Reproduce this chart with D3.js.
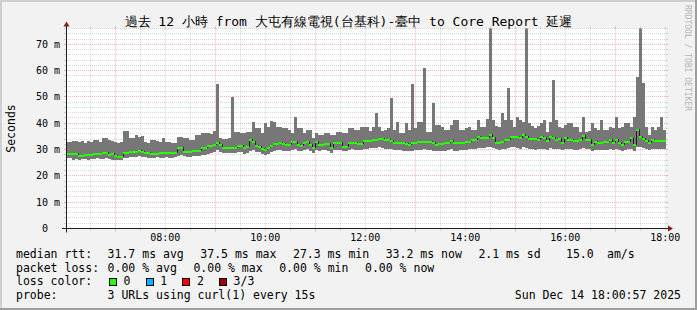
<!DOCTYPE html>
<html><head><meta charset="utf-8">
<script src="https://cdn.jsdelivr.net/npm/d3@7"></script>
<style>
body{margin:0;background:#f2f2f2;}
svg text{font-family:"DejaVu Sans Mono",monospace;white-space:pre;}
</style>
</head><body>
<svg id="chart" width="697" height="310"></svg>
<script>
// ---------- data ----------
const startTime = new Date(2025, 11, 14, 6, 0, 57);
const endTime = new Date(2025, 11, 14, 18, 0, 57);
const stepSeconds = 216;

const median = [
28.4,28.4,28.3,28.3,27.6,27.6,27.8,28.0,27.9,28.3, 28.3,28.3,28.6,28.6,28.0,28.2,27.6,27.3,27.3,28.8,
28.8,29.2,29.2,29.2,29.5,29.0,28.8,28.6,28.4,28.3, 28.4,28.6,28.6,28.6,28.6,28.8,28.8,30.5,30.5,29.2,
29.2,29.2,29.3,29.5,29.5,30.5,30.5,31.4,31.4,31.7,
32.6,31.8,30.5,30.5,30.5,30.5,30.5,31.4,31.4,30.5, 30.8,33.5,33.0,31.5,31.1,30.2,29.9,30.5,31.2,32.2,
32.2,32.4,32.2,31.8,31.8,33.0,33.0,31.8,31.3,32.6, 33.0,31.8,30.5,33.0,31.8,31.8,32.1,32.1,30.5,32.4,
32.6,32.6,31.1,31.1,32.4,32.6,32.6,32.1,32.1,33.4,
33.4,33.4,33.7,33.7,34.1,34.1,33.7,33.7,33.2,32.6, 32.6,32.4,32.4,32.0,31.8,32.4,32.4,33.0,33.0,33.0,
33.0,33.0,32.4,31.8,32.1,32.1,32.4,32.4,33.4,32.4, 32.4,32.6,32.6,33.0,33.0,33.7,33.7,34.9,34.3,34.3,
34.3,35.6,34.3,32.6,32.4,33.0,33.7,33.7,34.6,34.9,
34.7,34.3,35.6,34.9,33.9,33.9,33.9,33.7,34.6,34.3, 33.3,34.9,34.3,33.7,34.1,32.4,34.3,33.7,33.7,33.4,
33.4,33.7,35.2,33.7,33.7,31.8,33.0,32.6,32.6,33.0, 33.0,33.7,32.4,33.7,32.4,31.8,33.0,33.0,34.3,31.8,
37.5,34.6,33.9,33.4,32.4,33.7,33.4,33.4,33.4,33.2
];
const smokeMax = [
32.8,32.8,33.3,33.3,33.0,33.2,32.4,33.3,33.0,33.6, 33.6,33.0,34.3,34.5,33.6,33.3,32.8,32.6,33.0,37.2,
37.2,34.3,34.3,35.5,34.9,35.0,33.0,32.6,33.6,33.6, 33.3,33.0,34.3,33.0,33.0,32.4,32.6,34.9,34.9,34.3,
34.3,33.6,33.6,35.5,35.5,36.2,36.2,36.2,36.0,37.0,
55.0,34.3,34.0,34.0,34.3,50.1,36.8,36.8,36.2,36.2, 36.8,36.8,40.6,38.1,38.1,36.2,40.2,38.7,41.0,40.5,
38.7,38.7,38.1,38.1,37.5,36.2,42.3,38.1,38.1,36.2, 37.5,37.5,34.3,36.2,35.5,35.5,36.2,36.2,35.5,35.5,
36.8,36.8,36.2,36.2,38.1,38.1,37.5,37.5,38.7,38.7,
38.7,37.0,38.7,44.0,38.4,37.0,37.5,38.1,49.7,37.5, 40.6,36.2,36.2,40.0,37.5,55.0,38.1,40.6,40.6,60.9,
36.8,36.8,47.6,39.4,39.4,38.7,37.5,37.5,39.4,41.2, 41.2,37.5,37.5,38.1,38.7,37.5,37.5,41.2,38.7,38.7,
41.6,80.0,41.2,39.0,38.7,43.8,41.2,53.5,41.2,38.7,
42.5,41.2,40.6,80.0,40.0,39.0,38.1,39.0,40.0,41.2, 36.8,40.6,56.4,41.2,38.7,38.1,39.4,40.0,40.0,38.7,
38.7,36.8,42.3,36.8,37.0,40.0,38.1,37.5,41.2,37.5, 37.5,38.7,38.1,42.5,38.1,38.7,40.0,40.0,38.7,42.5,
57.7,80.0,55.2,38.7,35.6,38.7,37.5,38.7,42.5,37.5
];
const smokeMin = [
26.6,26.8,26.0,26.5,26.2,26.5,26.3,26.2,26.4,26.5, 26.6,26.4,26.5,26.8,26.5,26.2,26.0,25.9,26.2,26.8,
26.8,27.0,27.0,27.2,27.4,27.0,27.0,26.8,26.6,26.8, 27.0,26.7,26.8,27.0,26.8,26.6,27.0,27.6,27.8,27.4,
27.2,27.0,27.4,27.4,27.6,28.0,28.0,28.4,28.6,29.0,
29.8,29.2,28.8,28.6,28.6,28.8,28.6,29.0,29.0,28.4, 28.6,29.6,29.8,29.2,28.9,28.4,28.0,28.4,29.0,29.6,
29.8,30.0,29.6,29.4,29.6,30.0,30.2,29.6,29.4,29.8, 30.2,29.6,28.8,30.0,29.6,29.8,29.8,29.6,28.8,29.8,
30.0,30.0,29.4,29.6,30.0,30.2,30.0,29.8,30.0,30.4,
30.4,30.5,30.6,30.6,30.8,30.6,30.4,30.4,30.2,30.0, 30.0,29.8,29.6,29.6,29.4,29.6,29.8,30.0,30.0,30.2,
30.0,30.0,29.6,29.4,29.6,29.4,29.6,29.8,30.2,29.6, 29.6,30.0,29.8,30.0,30.2,30.4,30.4,30.6,30.6,30.6,
30.8,31.0,30.6,30.2,30.0,30.2,30.4,30.6,30.8,30.8,
30.6,30.4,30.8,30.6,30.2,30.2,30.0,30.2,30.4,30.4, 30.0,30.6,30.4,30.2,30.2,29.8,30.2,30.2,30.2,30.0,
30.0,30.2,30.6,30.2,30.2,29.6,30.0,29.8,29.8,30.0, 30.0,30.2,29.8,30.2,29.8,29.6,30.0,30.2,30.4,29.6,
30.8,30.8,30.6,30.2,29.8,30.2,30.2,30.2,30.2,30.2
];

const yLabelValues = [0, 10, 20, 30, 40, 50, 60, 70];
const yLabelTexts = [" 0  ", "10 m", "20 m", "30 m", "40 m", "50 m", "60 m", "70 m"];
const xLabelHours = [8, 10, 12, 14, 16, 18];

const titleText = "過去 12 小時 from 大屯有線電視(台基科)-臺中 to Core Report 延遲";
const yAxisTitle = "Seconds";
const rttItems = ["median rtt:", "31.7 ms avg", "37.5 ms max", "27.3 ms min", "33.2 ms now", "2.1 ms sd", "15.0", "am/s"];
const lossItems = ["packet loss:", "0.00 % avg", "0.00 % max", "0.00 % min", "0.00 % now"];
const lossColorLabel = "loss color:";
const lossLabels = ["0", "1", "2", "3/3"];
const lossColors = ["#26ff00", "#00b8ff", "#ff0000", "#a00000"];
const probeItems = ["probe:", "3 URLs using curl(1) every 15s"];
const stampText = "Sun Dec 14 18:00:57 2025";
const watermark = "RRDTOOL / TOBI OETIKER";

// ---------- drawing ----------
const W = 697, H = 310;
const svg = d3.select("#chart");
const X0 = 66, X1 = 666, Y0 = 228.5, Y1 = 28.5;

const x = d3.scaleTime().domain([startTime, endTime]).range([X0, X1]);
const y = d3.scaleLinear().domain([0, 76]).range([Y0, Y1]);
const px = v => Math.round(x(v) - 0.5) + 0.5;
const py = v => Math.round(y(v) - 0.5) + 0.5;

// background and frame
svg.append("rect").attr("width", W).attr("height", H).attr("fill", "#f2f2f2");
svg.append("rect").attr("x", 0).attr("y", 0).attr("width", W).attr("height", 2).attr("fill", "#cfcfcf");
svg.append("rect").attr("x", 0).attr("y", 0).attr("width", 2).attr("height", H).attr("fill", "#cfcfcf");
svg.append("rect").attr("x", 0).attr("y", H - 2).attr("width", W).attr("height", 2).attr("fill", "#9e9e9e");
svg.append("rect").attr("x", W - 2).attr("y", 0).attr("width", 2).attr("height", H).attr("fill", "#9e9e9e");

// canvas
svg.append("rect").attr("x", X0).attr("y", Y1).attr("width", X1 - X0).attr("height", Y0 - Y1).attr("fill", "#ffffff");

const gridMinor = "rgba(143,143,143,0.35)";
const gridMajor = "rgba(222,79,79,0.42)";

// horizontal grid
const hMinor = d3.range(2, 77, 2).filter(v => v % 10 !== 0);
const hMajor = yLabelValues.filter(v => v > 0);
const hg = svg.append("g");
function hLine(v, c) {
  hg.append("line").attr("x1", X0).attr("x2", X1).attr("y1", py(v)).attr("y2", py(v))
    .attr("stroke", c).attr("stroke-dasharray", "1,1");
  hg.append("line").attr("x1", X0 - 2).attr("x2", X0).attr("y1", py(v)).attr("y2", py(v)).attr("stroke", c);
  hg.append("line").attr("x1", X1).attr("x2", X1 + 2).attr("y1", py(v)).attr("y2", py(v)).attr("stroke", c);
}
hMinor.forEach(v => hLine(v, gridMinor));
hMajor.forEach(v => hLine(v, gridMajor));

// vertical grid
const halfHours = d3.timeMinute.every(30).range(startTime, endTime);
const vg = svg.append("g");
halfHours.forEach(t => {
  const major = t.getMinutes() === 0 && t.getHours() % 2 === 1;
  const c = major ? gridMajor : gridMinor;
  vg.append("line").attr("x1", px(t)).attr("x2", px(t)).attr("y1", Y1).attr("y2", Y0)
    .attr("stroke", c).attr("stroke-dasharray", "1,1");
  vg.append("line").attr("x1", px(t)).attr("x2", px(t)).attr("y1", Y0).attr("y2", Y0 + (major ? 3 : 2)).attr("stroke", c);
  vg.append("line").attr("x1", px(t)).attr("x2", px(t)).attr("y1", Y1 - 2).attr("y2", Y1).attr("stroke", c);
});

// data
svg.append("clipPath").attr("id", "plotclip").append("rect")
  .attr("x", X0).attr("y", Y1).attr("width", X1 - X0).attr("height", Y0 - Y1);
const plot = svg.append("g").attr("clip-path", "url(#plotclip)");

const times = d3.range(median.length + 1).map(i => new Date(+startTime + i * stepSeconds * 1000));
const rows = median.map((m, i) => ({ t0: times[i], t1: times[i + 1], med: m, lo: smokeMin[i], hi: smokeMax[i] }));

plot.selectAll("rect.smoke").data(rows).join("rect").attr("class", "smoke")
  .attr("x", d => Math.round(x(d.t0))).attr("width", d => Math.round(x(d.t1)) - Math.round(x(d.t0)))
  .attr("y", d => Math.round(y(d.hi))).attr("height", d => Math.round(y(d.lo)) - Math.round(y(d.hi)))
  .attr("fill", "#777777").attr("shape-rendering", "crispEdges");

const linePts = rows.map(d => [d.t0, d.med]).concat([[endTime, median[median.length - 1]]]);
plot.append("path")
  .attr("d", d3.line().x(d => Math.round(x(d[0])) + 0.5).y(d => Math.round(y(d[1])) - 0.5).curve(d3.curveStepAfter)(linePts))
  .attr("fill", "none").attr("stroke", "#202020").attr("stroke-width", 1);

plot.selectAll("rect.med").data(rows).join("rect").attr("class", "med")
  .attr("x", d => Math.round(x(d.t0))).attr("width", d => Math.round(x(d.t1)) - Math.round(x(d.t0)))
  .attr("y", d => Math.round(y(d.med)) - 1).attr("height", 2)
  .attr("fill", lossColors[0]).attr("shape-rendering", "crispEdges");

// axes
const axisCol = "#1f1f1f", arrowCol = "#801f1f";
svg.append("line").attr("x1", X0 - 4).attr("x2", X1 + 4).attr("y1", Y0).attr("y2", Y0).attr("stroke", axisCol);
svg.append("line").attr("x1", X0 + 0.5).attr("x2", X0 + 0.5).attr("y1", Y0 + 4).attr("y2", Y1 - 4).attr("stroke", axisCol);
svg.append("path").attr("d", `M${X1 + 2},${Y0 - 3}L${X1 + 2},${Y0 + 3}L${X1 + 7},${Y0}Z`).attr("fill", arrowCol);
svg.append("path").attr("d", `M${X0 + 0.5 - 3},${Y1 - 2}L${X0 + 0.5 + 3},${Y1 - 2}L${X0 + 0.5},${Y1 - 7}Z`).attr("fill", arrowCol);

// y labels
svg.selectAll("text.ylab").data(yLabelValues).join("text").attr("class", "ylab")
  .attr("x", 60).attr("y", v => y(v) + 3.5).attr("text-anchor", "end")
  .attr("font-size", "10px").attr("fill", "#000").text((v, i) => yLabelTexts[i]);

// x labels
svg.selectAll("text.xlab").data(xLabelHours).join("text").attr("class", "xlab")
  .attr("x", h => x(new Date(2025, 11, 14, h, 0, 0))).attr("y", 241)
  .attr("text-anchor", "middle").attr("font-size", "10px").attr("fill", "#000")
  .text(h => d3.timeFormat("%H:%M")(new Date(2025, 11, 14, h, 0, 0)));

// title
svg.append("text").attr("x", W / 2).attr("y", 26).attr("text-anchor", "middle")
  .attr("font-size", "13px").attr("fill", "#000").text(titleText);

// y-axis title
svg.append("text").attr("transform", `translate(15,${(Y0 + Y1) / 2}) rotate(-90)`)
  .attr("text-anchor", "middle").attr("font-size", "11.5px").attr("fill", "#000").text(yAxisTitle);

// watermark
svg.append("text").attr("transform", "translate(685,5) rotate(90)")
  .attr("font-size", "8px").attr("fill", "#b4b4b4").text(watermark);

// legend
const legendBase = [258, 271.7, 285.4, 299.1];
const lf = "11.5px";
function ltext(s, xx, yy, anchor) {
  svg.append("text").attr("x", xx).attr("y", yy).attr("font-size", lf).attr("fill", "#000")
    .attr("text-anchor", anchor || "start").text(s);
}
const rttX = [16, 107.6, 200.3, 293, 385.7, 478.4, 566, 607];
rttItems.forEach((s, i) => ltext(s, rttX[i], legendBase[0]));
const lossX = [16, 107.6, 193.4, 279.2, 365];
lossItems.forEach((s, i) => ltext(s, lossX[i], legendBase[1]));
ltext(lossColorLabel, 16, legendBase[2]);
lossLabels.forEach((lab, i) => {
  const bx = 109 + i * 36.7;
  svg.append("rect").attr("x", Math.round(bx) + 0.5).attr("y", 278.5).attr("width", 7).attr("height", 7)
    .attr("fill", lossColors[i]).attr("stroke", "#000").attr("stroke-width", 1);
  ltext(lab, bx + 14.5, legendBase[2]);
});
ltext(probeItems[0], 16, legendBase[3]);
ltext(probeItems[1], 107.6, legendBase[3]);
ltext(stampText, 681, legendBase[3], "end");
</script>
</body></html>
